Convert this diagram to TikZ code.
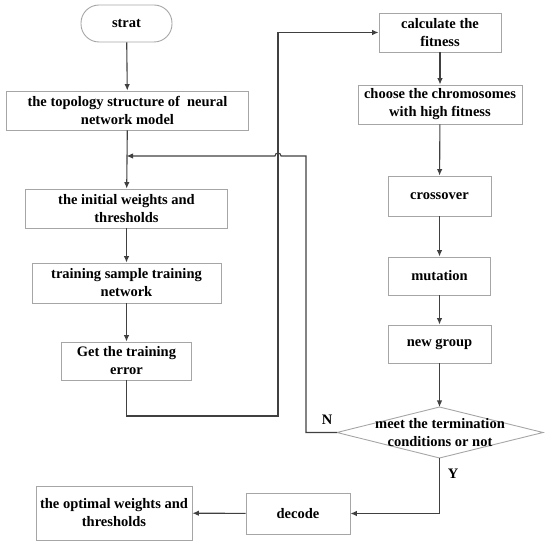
\documentclass[tikz,border=0pt]{standalone}
\usepackage{fontspec}
\setmainfont{Liberation Serif}
\usetikzlibrary{arrows.meta}
\definecolor{boxgray}{HTML}{A6A6A6}
\definecolor{linegray}{HTML}{404040}
\begin{document}
\begin{tikzpicture}[x=1pt,y=-1pt,
  box/.style={draw=boxgray,line width=0.9pt,inner sep=0pt,align=center,
    font=\fontsize{14.5}{18}\selectfont\bfseries,text=black},
  arr/.style={draw=linegray,line width=1.1pt,-{Latex[length=6.5pt,width=5.5pt]}},
  lbl/.style={font=\fontsize{14.5}{18}\selectfont\bfseries,inner sep=0pt}]
\useasboundingbox (0,0) rectangle (550,545);
% left column
\node[box,minimum width=91pt,minimum height=37pt,rounded corners=18pt] (start) at (126.5,23.5) {strat};
\node[box,minimum width=242pt,minimum height=39pt] (topo) at (127.5,110.5) {the topology structure of\ \ neural\\network model};
\node[box,minimum width=202pt,minimum height=39pt] (init) at (126.5,208.5) {the initial weights and\\thresholds};
\node[box,minimum width=189pt,minimum height=40pt] (train) at (126.5,283) {training sample training\\network};
\node[box,minimum width=130pt,minimum height=38pt] (err) at (126.5,361) {Get the training\\error};
% right column
\node[box,minimum width=122pt,minimum height=39pt] (calc) at (440,32.5) {calculate the\\fitness};
\node[box,minimum width=164pt,minimum height=39pt] (choose) at (440,104.5) {choose the chromosomes\\with high fitness};
\node[box,minimum width=103pt,minimum height=40pt] (cross) at (439.5,196) {crossover};
\node[box,minimum width=102pt,minimum height=38pt] (mut) at (439.5,276) {mutation};
\node[box,minimum width=103pt,minimum height=38pt] (newg) at (439.5,344) {new group};
% diamond
\coordinate (dT) at (439.5,407);
\coordinate (dB) at (439.5,458);
\coordinate (dL) at (337,432.5);
\coordinate (dR) at (543,432.5);
\draw[boxgray,line width=0.9pt] (dT) -- (dR) -- (dB) -- (dL) -- cycle;
\node[lbl,align=center] (dia) at (440,432.5) {meet the termination\\conditions or not};
% bottom
\node[box,minimum width=104pt,minimum height=41pt] (decode) at (298,513.5) {decode};
\node[box,minimum width=156pt,minimum height=54pt] (opt) at (114,513) {the optimal weights and\\thresholds};
% helper coordinates
\coordinate (merge) at (126.5,156);
\coordinate (nCorner) at (306,432.5);
\coordinate (fbTop) at (306,156);
\coordinate (hopR) at (281,156);
\coordinate (lc) at (278,416);
% connectors
\draw[arr] (start) -- (topo);
\draw[arr] (topo) -- (init);
\draw[arr] (init) -- (train);
\draw[arr] (train) -- (err);
\draw[arr] (err.south) |- (lc) |- (calc.west);
\draw[arr] (calc) -- (choose);
\draw[arr] (choose) -- (cross);
\draw[arr] (cross) -- (mut);
\draw[arr] (mut) -- (newg);
\draw[arr] (newg) -- (dT);
\draw[arr] (dL) -- (nCorner) -- (fbTop) -- (hopR) arc[start angle=0,end angle=180,radius=3pt] -- (merge);
\draw[arr] (dB) |- (decode.east);
\draw[arr] (decode) -- (opt);
% labels
\node[lbl] (nlab) at (327,420) {N};
\node[lbl] (ylab) at (453,474) {Y};
\end{tikzpicture}
\end{document}
